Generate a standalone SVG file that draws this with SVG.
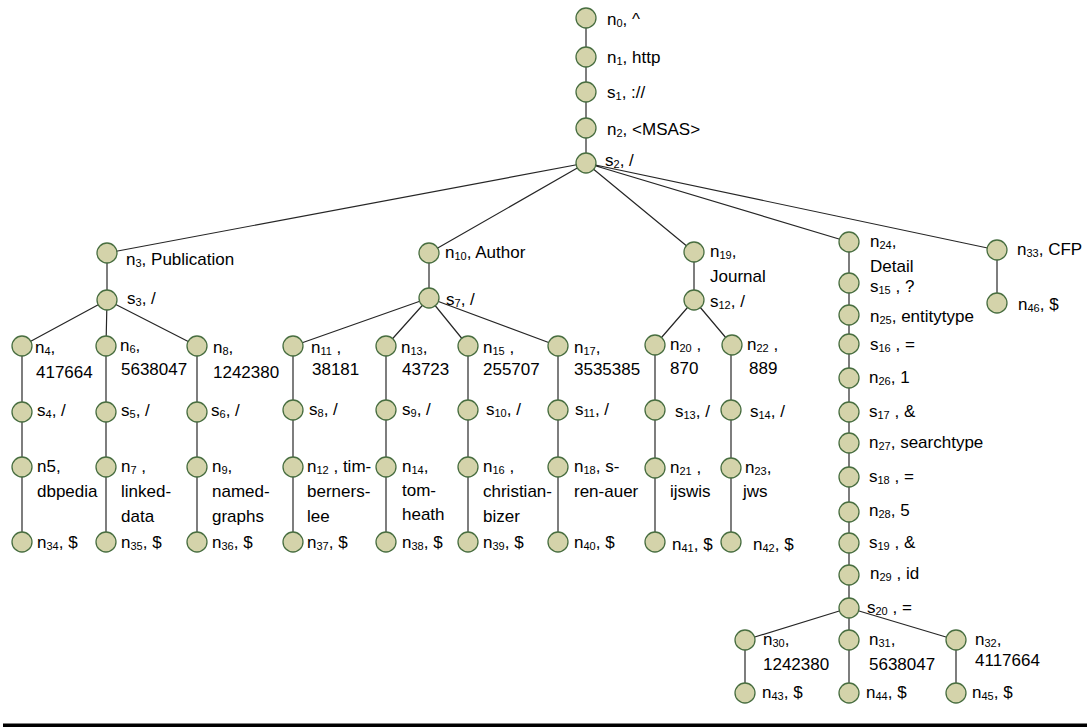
<svg xmlns="http://www.w3.org/2000/svg" width="1087" height="727" viewBox="0 0 1087 727">
<style>
  .nd { fill: #d4d3aa; stroke: #486e40; stroke-width: 1.3; }
  .e  { stroke: #262626; stroke-width: 1.2; fill: none; }
  .v  { stroke: #5e5e5e; stroke-width: 1.6; fill: none; }
  text { font-family: "Liberation Sans", Arial, sans-serif; font-size: 17px; fill: #000; }
  .s { font-size: 11px; }
</style>
<rect width="1087" height="727" fill="#ffffff"/>

<!-- connectors -->
<g id="connectors">
  <!-- root chain -->
  <path class="v" d="M586 18V163"/>
  <!-- fan-out from s2 -->
  <path class="e" d="M586 163L107 253M586 163L429 253M586 163L694 252M586 163L849 242M586 163L997 250"/>
  <!-- Publication -->
  <path class="v" d="M107 253V300"/>
  <path class="e" d="M107 300L22 346M107 300L106 346M107 300L197 346"/>
  <path class="v" d="M22 346V542M106 346V542M197 346V542"/>
  <!-- Author -->
  <path class="v" d="M429 253V298"/>
  <path class="e" d="M429 298L293 346M429 298L386 346M429 298L468 346M429 298L558 346"/>
  <path class="v" d="M293 346V542M386 346V542M468 346V542M558 346V542"/>
  <!-- Journal -->
  <path class="v" d="M694 252V300"/>
  <path class="e" d="M694 300L655 345M694 300L732 345"/>
  <path class="v" d="M655 345V542M731 345V542"/>
  <!-- Detail -->
  <path class="e" d="M849 242V608"/>
  <path class="e" d="M849 608L745 640M849 608L849 640M849 608L956 640"/>
  <path class="v" d="M745 640V693M849 640V693M956 640V693"/>
  <!-- CFP -->
  <path class="v" d="M997 250V303"/>
</g>

<!-- root chain -->
<g id="n0"><circle class="nd" cx="586" cy="18" r="10"/><text x="607" y="25">n<tspan class="s" dy="1.5">0</tspan><tspan dy="-1.5">, ^</tspan></text></g>
<g id="n1"><circle class="nd" cx="586" cy="57" r="10"/><text x="607" y="63">n<tspan class="s" dy="1.5">1</tspan><tspan dy="-1.5">, http</tspan></text></g>
<g id="s1"><circle class="nd" cx="586" cy="92" r="10"/><text x="607" y="98">s<tspan class="s" dy="1.5">1</tspan><tspan dy="-1.5">, ://</tspan></text></g>
<g id="n2"><circle class="nd" cx="586" cy="128" r="10"/><text x="607" y="135">n<tspan class="s" dy="1.5">2</tspan><tspan dy="-1.5">, &lt;MSAS&gt;</tspan></text></g>
<g id="s2"><circle class="nd" cx="586" cy="163" r="10"/><text x="605" y="166">s<tspan class="s" dy="1.5">2</tspan><tspan dy="-1.5">, /</tspan></text></g>

<!-- Publication branch -->
<g id="n3"><circle class="nd" cx="107" cy="253" r="10"/><text x="126" y="265">n<tspan class="s" dy="1.5">3</tspan><tspan dy="-1.5">, Publication</tspan></text></g>
<g id="s3"><circle class="nd" cx="107" cy="300" r="10"/><text x="127" y="304">s<tspan class="s" dy="1.5">3</tspan><tspan dy="-1.5">, /</tspan></text></g>
<g id="n4"><circle class="nd" cx="22" cy="346" r="10"/><text x="35" y="353">n<tspan class="s" dy="1.5">4</tspan><tspan dy="-1.5">,</tspan><tspan x="36" y="378">417664</tspan></text></g>
<g id="n6"><circle class="nd" cx="106" cy="346" r="10"/><text x="120" y="351">n<tspan class="s" dy="1.5">6</tspan><tspan dy="-1.5">,</tspan><tspan x="121" y="375">5638047</tspan></text></g>
<g id="n8"><circle class="nd" cx="197" cy="346" r="10"/><text x="213" y="353">n<tspan class="s" dy="1.5">8</tspan><tspan dy="-1.5">,</tspan><tspan x="213" y="378">1242380</tspan></text></g>
<g id="s4"><circle class="nd" cx="22" cy="412" r="10"/><text x="37" y="416">s<tspan class="s" dy="1.5">4</tspan><tspan dy="-1.5">, /</tspan></text></g>
<g id="s5"><circle class="nd" cx="106" cy="412" r="10"/><text x="121" y="416">s<tspan class="s" dy="1.5">5</tspan><tspan dy="-1.5">, /</tspan></text></g>
<g id="s6"><circle class="nd" cx="197" cy="412" r="10"/><text x="211" y="416">s<tspan class="s" dy="1.5">6</tspan><tspan dy="-1.5">, /</tspan></text></g>
<g id="n5"><circle class="nd" cx="22" cy="467" r="10"/><text x="37" y="472">n5,<tspan x="37" y="497">dbpedia</tspan></text></g>
<g id="n7"><circle class="nd" cx="106" cy="467" r="10"/><text x="121" y="472">n<tspan class="s" dy="1.5">7</tspan><tspan dy="-1.5"> ,</tspan><tspan x="121" y="497">linked-</tspan><tspan x="121" y="522">data</tspan></text></g>
<g id="n9"><circle class="nd" cx="197" cy="467" r="10"/><text x="212" y="472">n<tspan class="s" dy="1.5">9</tspan><tspan dy="-1.5">,</tspan><tspan x="212" y="497">named-</tspan><tspan x="212" y="522">graphs</tspan></text></g>
<g id="n34"><circle class="nd" cx="22" cy="542" r="10"/><text x="37" y="548">n<tspan class="s" dy="1.5">34</tspan><tspan dy="-1.5">, $</tspan></text></g>
<g id="n35"><circle class="nd" cx="106" cy="542" r="10"/><text x="121" y="548">n<tspan class="s" dy="1.5">35</tspan><tspan dy="-1.5">, $</tspan></text></g>
<g id="n36"><circle class="nd" cx="197" cy="542" r="10"/><text x="212" y="548">n<tspan class="s" dy="1.5">36</tspan><tspan dy="-1.5">, $</tspan></text></g>

<!-- Author branch -->
<g id="n10"><circle class="nd" cx="429" cy="253" r="10"/><text x="445" y="258">n<tspan class="s" dy="1.5">10</tspan><tspan dy="-1.5">, Author</tspan></text></g>
<g id="s7"><circle class="nd" cx="429" cy="298" r="10"/><text x="446" y="305">s<tspan class="s" dy="1.5">7</tspan><tspan dy="-1.5">, /</tspan></text></g>
<g id="n11"><circle class="nd" cx="293" cy="346" r="10"/><text x="311" y="353">n<tspan class="s" dy="1.5">11</tspan><tspan dy="-1.5"> ,</tspan><tspan x="312" y="375">38181</tspan></text></g>
<g id="n13"><circle class="nd" cx="386" cy="346" r="10"/><text x="401" y="353">n<tspan class="s" dy="1.5">13</tspan><tspan dy="-1.5">,</tspan><tspan x="402" y="375">43723</tspan></text></g>
<g id="n15"><circle class="nd" cx="468" cy="346" r="10"/><text x="483" y="353">n<tspan class="s" dy="1.5">15</tspan><tspan dy="-1.5"> ,</tspan><tspan x="483" y="375">255707</tspan></text></g>
<g id="n17"><circle class="nd" cx="558" cy="346" r="10"/><text x="574" y="353">n<tspan class="s" dy="1.5">17</tspan><tspan dy="-1.5">,</tspan><tspan x="574" y="375">3535385</tspan></text></g>
<g id="s8"><circle class="nd" cx="293" cy="410" r="10"/><text x="309" y="415">s<tspan class="s" dy="1.5">8</tspan><tspan dy="-1.5">, /</tspan></text></g>
<g id="s9"><circle class="nd" cx="386" cy="410" r="10"/><text x="402" y="415">s<tspan class="s" dy="1.5">9</tspan><tspan dy="-1.5">, /</tspan></text></g>
<g id="s10"><circle class="nd" cx="468" cy="410" r="10"/><text x="486" y="415">s<tspan class="s" dy="1.5">10</tspan><tspan dy="-1.5">, /</tspan></text></g>
<g id="s11"><circle class="nd" cx="558" cy="410" r="10"/><text x="575" y="415">s<tspan class="s" dy="1.5">11</tspan><tspan dy="-1.5">, /</tspan></text></g>
<g id="n12"><circle class="nd" cx="293" cy="467" r="10"/><text x="307" y="472">n<tspan class="s" dy="1.5">12</tspan><tspan dy="-1.5"> , tim-</tspan><tspan x="307" y="497">berners-</tspan><tspan x="307" y="522">lee</tspan></text></g>
<g id="n14"><circle class="nd" cx="386" cy="467" r="10"/><text x="402" y="472">n<tspan class="s" dy="1.5">14</tspan><tspan dy="-1.5">,</tspan><tspan x="402" y="496">tom-</tspan><tspan x="402" y="520">heath</tspan></text></g>
<g id="n16"><circle class="nd" cx="468" cy="467" r="10"/><text x="483" y="472">n<tspan class="s" dy="1.5">16</tspan><tspan dy="-1.5"> ,</tspan><tspan x="483" y="497">christian-</tspan><tspan x="483" y="522">bizer</tspan></text></g>
<g id="n18"><circle class="nd" cx="558" cy="467" r="10"/><text x="574" y="472">n<tspan class="s" dy="1.5">18</tspan><tspan dy="-1.5">, s-</tspan><tspan x="574" y="497">ren-auer</tspan></text></g>
<g id="n37"><circle class="nd" cx="293" cy="542" r="10"/><text x="307" y="548">n<tspan class="s" dy="1.5">37</tspan><tspan dy="-1.5">, $</tspan></text></g>
<g id="n38"><circle class="nd" cx="386" cy="542" r="10"/><text x="402" y="548">n<tspan class="s" dy="1.5">38</tspan><tspan dy="-1.5">, $</tspan></text></g>
<g id="n39"><circle class="nd" cx="468" cy="542" r="10"/><text x="483" y="548">n<tspan class="s" dy="1.5">39</tspan><tspan dy="-1.5">, $</tspan></text></g>
<g id="n40"><circle class="nd" cx="558" cy="542" r="10"/><text x="574" y="548">n<tspan class="s" dy="1.5">40</tspan><tspan dy="-1.5">, $</tspan></text></g>

<!-- Journal branch -->
<g id="n19"><circle class="nd" cx="694" cy="252" r="10"/><text x="710" y="257">n<tspan class="s" dy="1.5">19</tspan><tspan dy="-1.5">,</tspan><tspan x="710" y="282">Journal</tspan></text></g>
<g id="s12"><circle class="nd" cx="694" cy="300" r="10"/><text x="710" y="307">s<tspan class="s" dy="1.5">12</tspan><tspan dy="-1.5">, /</tspan></text></g>
<g id="n20"><circle class="nd" cx="655" cy="345" r="10"/><text x="670" y="350">n<tspan class="s" dy="1.5">20</tspan><tspan dy="-1.5"> ,</tspan><tspan x="670" y="374">870</tspan></text></g>
<g id="n22"><circle class="nd" cx="732" cy="345" r="10"/><text x="747" y="350">n<tspan class="s" dy="1.5">22</tspan><tspan dy="-1.5"> ,</tspan><tspan x="749" y="374">889</tspan></text></g>
<g id="s13"><circle class="nd" cx="655" cy="410" r="10"/><text x="675" y="417">s<tspan class="s" dy="1.5">13</tspan><tspan dy="-1.5">, /</tspan></text></g>
<g id="s14"><circle class="nd" cx="731" cy="410" r="10"/><text x="750" y="417">s<tspan class="s" dy="1.5">14</tspan><tspan dy="-1.5">, /</tspan></text></g>
<g id="n21"><circle class="nd" cx="655" cy="468" r="10"/><text x="670" y="473">n<tspan class="s" dy="1.5">21</tspan><tspan dy="-1.5"> ,</tspan><tspan x="670" y="497">ijswis</tspan></text></g>
<g id="n23"><circle class="nd" cx="731" cy="468" r="10"/><text x="745" y="473">n<tspan class="s" dy="1.5">23</tspan><tspan dy="-1.5">,</tspan><tspan x="743" y="497">jws</tspan></text></g>
<g id="n41"><circle class="nd" cx="655" cy="542" r="10"/><text x="672" y="550">n<tspan class="s" dy="1.5">41</tspan><tspan dy="-1.5">, $</tspan></text></g>
<g id="n42"><circle class="nd" cx="731" cy="542" r="10"/><text x="753" y="550">n<tspan class="s" dy="1.5">42</tspan><tspan dy="-1.5">, $</tspan></text></g>

<!-- Detail branch -->
<g id="n24"><circle class="nd" cx="849" cy="242" r="10"/><text x="870" y="247">n<tspan class="s" dy="1.5">24</tspan><tspan dy="-1.5">,</tspan><tspan x="870" y="272">Detail</tspan></text></g>
<g id="s15"><circle class="nd" cx="849" cy="283" r="10"/><text x="870" y="292">s<tspan class="s" dy="1.5">15</tspan><tspan dy="-1.5"> , ?</tspan></text></g>
<g id="n25"><circle class="nd" cx="849" cy="315" r="10"/><text x="870" y="322">n<tspan class="s" dy="1.5">25</tspan><tspan dy="-1.5">, entitytype</tspan></text></g>
<g id="s16"><circle class="nd" cx="849" cy="344" r="10"/><text x="870" y="350">s<tspan class="s" dy="1.5">16</tspan><tspan dy="-1.5"> , =</tspan></text></g>
<g id="n26"><circle class="nd" cx="849" cy="378" r="10"/><text x="869" y="383">n<tspan class="s" dy="1.5">26</tspan><tspan dy="-1.5">, 1</tspan></text></g>
<g id="s17"><circle class="nd" cx="849" cy="412" r="10"/><text x="869" y="417">s<tspan class="s" dy="1.5">17</tspan><tspan dy="-1.5"> , &amp;</tspan></text></g>
<g id="n27"><circle class="nd" cx="849" cy="443" r="10"/><text x="869" y="448">n<tspan class="s" dy="1.5">27</tspan><tspan dy="-1.5">, searchtype</tspan></text></g>
<g id="s18"><circle class="nd" cx="849" cy="477" r="10"/><text x="869" y="482">s<tspan class="s" dy="1.5">18</tspan><tspan dy="-1.5"> , =</tspan></text></g>
<g id="n28"><circle class="nd" cx="849" cy="512" r="10"/><text x="869" y="516">n<tspan class="s" dy="1.5">28</tspan><tspan dy="-1.5">, 5</tspan></text></g>
<g id="s19"><circle class="nd" cx="849" cy="543" r="10"/><text x="869" y="548">s<tspan class="s" dy="1.5">19</tspan><tspan dy="-1.5"> , &amp;</tspan></text></g>
<g id="n29"><circle class="nd" cx="849" cy="575" r="10"/><text x="870" y="579">n<tspan class="s" dy="1.5">29</tspan><tspan dy="-1.5"> , id</tspan></text></g>
<g id="s20"><circle class="nd" cx="849" cy="608" r="10"/><text x="867" y="613">s<tspan class="s" dy="1.5">20</tspan><tspan dy="-1.5"> , =</tspan></text></g>
<g id="n30"><circle class="nd" cx="745" cy="640" r="10"/><text x="763" y="645">n<tspan class="s" dy="1.5">30</tspan><tspan dy="-1.5">,</tspan><tspan x="763" y="670">1242380</tspan></text></g>
<g id="n31"><circle class="nd" cx="849" cy="640" r="10"/><text x="869" y="645">n<tspan class="s" dy="1.5">31</tspan><tspan dy="-1.5">,</tspan><tspan x="869" y="670">5638047</tspan></text></g>
<g id="n32"><circle class="nd" cx="956" cy="640" r="10"/><text x="975" y="645">n<tspan class="s" dy="1.5">32</tspan><tspan dy="-1.5">,</tspan><tspan x="975" y="666">4117664</tspan></text></g>
<g id="n43"><circle class="nd" cx="745" cy="693" r="10"/><text x="762" y="698">n<tspan class="s" dy="1.5">43</tspan><tspan dy="-1.5">, $</tspan></text></g>
<g id="n44"><circle class="nd" cx="849" cy="693" r="10"/><text x="866" y="698">n<tspan class="s" dy="1.5">44</tspan><tspan dy="-1.5">, $</tspan></text></g>
<g id="n45"><circle class="nd" cx="956" cy="693" r="10"/><text x="972" y="698">n<tspan class="s" dy="1.5">45</tspan><tspan dy="-1.5">, $</tspan></text></g>

<!-- CFP branch -->
<g id="n33"><circle class="nd" cx="997" cy="250" r="10"/><text x="1017" y="255">n<tspan class="s" dy="1.5">33</tspan><tspan dy="-1.5">, CFP</tspan></text></g>
<g id="n46"><circle class="nd" cx="997" cy="303" r="10"/><text x="1018" y="310">n<tspan class="s" dy="1.5">46</tspan><tspan dy="-1.5">, $</tspan></text></g>

<!-- baseline rule under the figure -->
<rect x="3" y="723.5" width="1084" height="3.5" fill="#000"/>
</svg>
